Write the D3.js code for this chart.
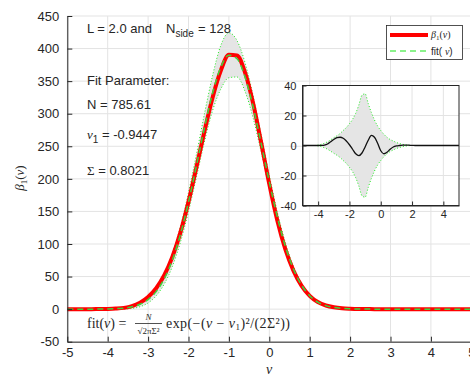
<!DOCTYPE html>
<html>
<head>
<meta charset="utf-8">
<script src="https://cdn.jsdelivr.net/npm/d3@7"></script>
<style>
  body { margin: 0; background: #fff; }
  svg { display: block; }
  text { font-family: "Liberation Sans", Arial, sans-serif; fill: #262626; }
  .tex { font-family: "Liberation Serif", "DejaVu Serif", serif; }
  .grid line { stroke: #e3e3e3; stroke-width: 1; }
  .axis path, .axis line { stroke: #262626; }
</style>
</head>
<body>
<svg id="chart" width="470" height="378"></svg>
<script>
// nu grid of the curves
var nu = [-5,-4.8,-4.6,-4.4,-4.2,-4,-3.8,-3.6,-3.4,-3.2,-3,-2.8,-2.6,-2.4,-2.2,-2,-1.8,-1.6,-1.4,-1.2,-1,
  -0.8,-0.6,-0.4,-0.2,0,0.2,0.4,0.6,0.8,1,1.2,1.4,1.6,1.8,2,2.2,2.4,2.6,2.8,3,3.2,3.4,3.6,3.8,4,4.2,4.4,4.6,4.8,5];

// beta_1(nu), measured
var beta = [0,0,0,0,0.1,0.3,0.8,1.9,4.6,10,18.7,32.1,52,80.1,117.8,164.9,218.8,274.4,325.8,366.4,390.5,
  389.5,362.9,315.8,255.4,191.8,135.6,91.3,58.7,35.7,20.4,10.9,5.6,2.8,1.3,0.6,0.2,0.1,0,0,0,0,0,0,0,0,0,0,0,0,0];

// gaussian fit
var fitVals = [0,0,0,0,0.1,0.3,0.7,1.6,3.6,7.5,14.7,26.9,46.5,75.3,114.8,164.4,221.3,279.9,332.6,371.4,389.8,
  384.4,356.2,310.3,253.9,195.3,141.1,95.8,61.2,36.7,20.7,10.9,5.4,2.5,1.1,0.5,0.2,0.1,0,0,0,0,0,0,0,0,0,0,0,0,0];

// error envelope (half width of grey band)
var envelope = [0,0,0,0,0,0.3,0.8,1.5,2.5,3.8,5.2,6.5,8,10,12,14.5,17.5,21.5,27,33.5,34.5,
  28,22,17,13,10,7.5,5.5,4,3,2,1.3,0.8,0.4,0.1,0,0,0,0,0,0,0,0,0,0,0,0,0,0,0,0];

// residual beta - fit (inset)
var residual = [0,0,0,0,0,0,0.1,0.3,1,2.5,4,5.2,5.5,4.8,3,0.5,-2.5,-5.5,-6.8,-5,-1,
  3.5,6.7,5.5,1.5,-3.5,-5.5,-4.5,-2.5,-1,-0.3,0,0.2,0.3,0.2,0.1,0,0,0,0,0,0,0,0,0,0,0,0,0,0,0];

var xTicks = [-5,-4,-3,-2,-1,0,1,2,3,4,5];
var yTicks = [-50,0,50,100,150,200,250,300,350,400,450];
var insetXTicks = [-4,-2,0,2,4];
var insetYTicks = [-40,-20,0,20,40];

var svg = d3.select("#chart");

var x = d3.scaleLinear().domain([-5, 5]).range([67.3, 471.3]);
var y = d3.scaleLinear().domain([-50, 450]).range([341.7, 16]);

// plain hyphen minus like the original
function tickText(d) { return String(d); }
function styleTicks(size) {
  return function(g) {
    g.selectAll("text").attr("font-size", size)
      .attr("font-family", "Liberation Sans, Arial, sans-serif").attr("fill", "#262626");
  };
}

var pts = nu.map(function(v, i) {
  return { nu: v, beta: beta[i], fit: fitVals[i], env: envelope[i], res: residual[i] };
});

// grid
var grid = svg.append("g").attr("class", "grid");
grid.selectAll(".gx").data(xTicks).enter().append("line")
  .attr("x1", function(d) { return x(d); }).attr("x2", function(d) { return x(d); })
  .attr("y1", y(-50)).attr("y2", y(450));
grid.selectAll(".gy").data(yTicks).enter().append("line")
  .attr("x1", x(-5)).attr("x2", x(5))
  .attr("y1", function(d) { return y(d); }).attr("y2", function(d) { return y(d); });

// grey band around the fit
var band = d3.area()
  .x(function(d) { return x(d.nu); })
  .y0(function(d) { return y(d.fit - d.env); })
  .y1(function(d) { return y(d.fit + d.env); })
  .curve(d3.curveMonotoneX);
svg.append("path").datum(pts).attr("d", band).attr("fill", "#e5e5e5");

var upper = d3.line().x(function(d) { return x(d.nu); }).y(function(d) { return y(d.fit + d.env); }).curve(d3.curveMonotoneX);
var lower = d3.line().x(function(d) { return x(d.nu); }).y(function(d) { return y(d.fit - d.env); }).curve(d3.curveMonotoneX);
[upper, lower].forEach(function(l) {
  svg.append("path").datum(pts).attr("d", l)
    .attr("fill", "none").attr("stroke", "#22ee22").attr("stroke-width", 1)
    .attr("stroke-dasharray", "1,2");
});

// beta_1 (red) and fit (green dashed)
svg.append("path").datum(pts)
  .attr("d", d3.line().x(function(d) { return x(d.nu); }).y(function(d) { return y(d.beta); }).curve(d3.curveMonotoneX))
  .attr("fill", "none").attr("stroke", "#ff0000").attr("stroke-width", 4);
svg.append("path").datum(pts)
  .attr("d", d3.line().x(function(d) { return x(d.nu); }).y(function(d) { return y(d.fit); }).curve(d3.curveMonotoneX))
  .attr("fill", "none").attr("stroke", "#3cd43c").attr("stroke-width", 1.5)
  .attr("stroke-dasharray", "6,4");

// axes (left & bottom only, ticks inward)
svg.append("g").attr("class", "axis")
  .attr("transform", "translate(" + x(-5) + ",0)")
  .call(d3.axisLeft(y).tickValues(yTicks).tickFormat(tickText).tickSizeInner(-5).tickSizeOuter(0).tickPadding(8))
  .call(styleTicks(13));
svg.append("g").attr("class", "axis")
  .attr("transform", "translate(0," + y(-50) + ")")
  .call(d3.axisBottom(x).tickValues(xTicks).tickFormat(tickText).tickSizeInner(-5).tickSizeOuter(0).tickPadding(6))
  .call(styleTicks(13));

// axis labels
svg.append("text").attr("class", "tex")
  .attr("transform", "translate(24,178) rotate(-90)")
  .attr("text-anchor", "middle").attr("font-size", 13)
  .html('<tspan font-style="italic">β</tspan><tspan font-size="9" dy="3">1</tspan><tspan dy="-3">(</tspan><tspan font-style="italic">ν</tspan><tspan>)</tspan>');
svg.append("text").attr("class", "tex")
  .attr("x", 269).attr("y", 374).attr("text-anchor", "middle")
  .attr("font-size", 14).attr("font-style", "italic").text("ν");

// annotations
svg.append("text").attr("x", 87).attr("y", 33).attr("font-size", 13).text("L = 2.0 and");
svg.append("text").attr("x", 166).attr("y", 33).attr("font-size", 13)
  .html('N<tspan font-size="10" dy="4">side</tspan>');
svg.append("text").attr("x", 198).attr("y", 33).attr("font-size", 13).text("= 128");
svg.append("text").attr("x", 87).attr("y", 85).attr("font-size", 13).text("Fit Parameter:");
svg.append("text").attr("x", 87).attr("y", 109).attr("font-size", 13).text("N = 785.61");
svg.append("text").attr("x", 87).attr("y", 139).attr("font-size", 13)
  .html('<tspan class="tex" font-style="italic">ν</tspan><tspan font-size="10" dy="4">1</tspan><tspan dy="-4"> = -0.9447</tspan>');
svg.append("text").attr("x", 87).attr("y", 175).attr("font-size", 13)
  .html('<tspan class="tex">Σ</tspan> = 0.8021');

// formula
var fx = svg.append("g").attr("class", "formula");
fx.append("text").attr("class", "tex").attr("x", 87).attr("y", 328).attr("font-size", 14)
  .html('fit(<tspan font-style="italic">ν</tspan>) =');
fx.append("text").attr("class", "tex").attr("x", 148.5).attr("y", 320).attr("font-size", 9)
  .attr("text-anchor", "middle").attr("font-style", "italic").text("N");
fx.append("line").attr("x1", 135).attr("x2", 162).attr("y1", 323.5).attr("y2", 323.5)
  .attr("stroke", "#262626").attr("stroke-width", 0.8);
fx.append("text").attr("class", "tex").attr("x", 148.5).attr("y", 333.5).attr("font-size", 9)
  .attr("text-anchor", "middle").text("√2πΣ²");
fx.append("text").attr("class", "tex").attr("x", 166).attr("y", 328).attr("font-size", 14)
  .attr("textLength", 124).attr("lengthAdjust", "spacing")
  .html('exp(−(<tspan font-style="italic">ν</tspan> − <tspan font-style="italic">ν</tspan><tspan font-size="9" dy="2">1</tspan><tspan dy="-2">)²/(2Σ²))</tspan>');

// inset: residual with band
var ix = d3.scaleLinear().domain([-5, 5]).range([302.5, 459]);
var iy = d3.scaleLinear().domain([-40, 40]).range([205.5, 85.5]);
var inset = svg.append("g").attr("class", "inset");
inset.append("rect").attr("x", 302.5).attr("y", 85.5).attr("width", 156.5).attr("height", 120).attr("fill", "#fff");
var igrid = inset.append("g").attr("class", "grid");
igrid.selectAll(".gx").data(insetXTicks).enter().append("line")
  .attr("x1", function(d) { return ix(d); }).attr("x2", function(d) { return ix(d); })
  .attr("y1", iy(-40)).attr("y2", iy(40));
igrid.selectAll(".gy").data(insetYTicks).enter().append("line")
  .attr("x1", ix(-5)).attr("x2", ix(5))
  .attr("y1", function(d) { return iy(d); }).attr("y2", function(d) { return iy(d); });

inset.append("path").datum(pts)
  .attr("d", d3.area().x(function(d) { return ix(d.nu); })
    .y0(function(d) { return iy(-d.env); }).y1(function(d) { return iy(d.env); }).curve(d3.curveMonotoneX))
  .attr("fill", "#e5e5e5");
[1, -1].forEach(function(s) {
  inset.append("path").datum(pts)
    .attr("d", d3.line().x(function(d) { return ix(d.nu); }).y(function(d) { return iy(s * d.env); }).curve(d3.curveMonotoneX))
    .attr("fill", "none").attr("stroke", "#22ee22").attr("stroke-width", 1).attr("stroke-dasharray", "1,2");
});
inset.append("path").datum(pts)
  .attr("d", d3.line().x(function(d) { return ix(d.nu); }).y(function(d) { return iy(d.res); }).curve(d3.curveMonotoneX))
  .attr("fill", "none").attr("stroke", "#111").attr("stroke-width", 1.3);

inset.append("g").attr("class", "axis")
  .attr("transform", "translate(" + ix(-5) + ",0)")
  .call(d3.axisLeft(iy).tickValues(insetYTicks).tickFormat(tickText).tickSizeInner(-4).tickSizeOuter(0).tickPadding(6))
  .call(styleTicks(11));
inset.append("g").attr("class", "axis")
  .attr("transform", "translate(0," + iy(-40) + ")")
  .call(d3.axisBottom(ix).tickValues(insetXTicks).tickFormat(tickText).tickSizeInner(-4).tickSizeOuter(0).tickPadding(5))
  .call(styleTicks(11));
inset.append("rect").attr("x", 302.5).attr("y", 85.5).attr("width", 156.5).attr("height", 120)
  .attr("fill", "none").attr("stroke", "#262626").attr("stroke-width", 1);

// legend
var leg = svg.append("g").attr("class", "legend");
leg.append("rect").attr("x", 386.5).attr("y", 25.5).attr("width", 76).attr("height", 34)
  .attr("fill", "#fff").attr("stroke", "#262626").attr("stroke-width", 0.8);
leg.append("line").attr("x1", 390).attr("x2", 428).attr("y1", 35).attr("y2", 35)
  .attr("stroke", "#ff0000").attr("stroke-width", 4);
leg.append("text").attr("class", "tex").attr("x", 431).attr("y", 38).attr("font-size", 10)
  .html('<tspan font-style="italic">β</tspan><tspan font-size="7" dy="2">1</tspan><tspan dy="-2">(</tspan><tspan font-style="italic">ν</tspan>)');
leg.append("line").attr("x1", 390).attr("x2", 428).attr("y1", 51).attr("y2", 51)
  .attr("stroke", "#66ee66").attr("stroke-width", 1.5).attr("stroke-dasharray", "6,4");
leg.append("text").attr("x", 431).attr("y", 55).attr("font-size", 10)
  .html('fit( <tspan class="tex" font-style="italic">ν</tspan>)');
</script>
</body>
</html>
